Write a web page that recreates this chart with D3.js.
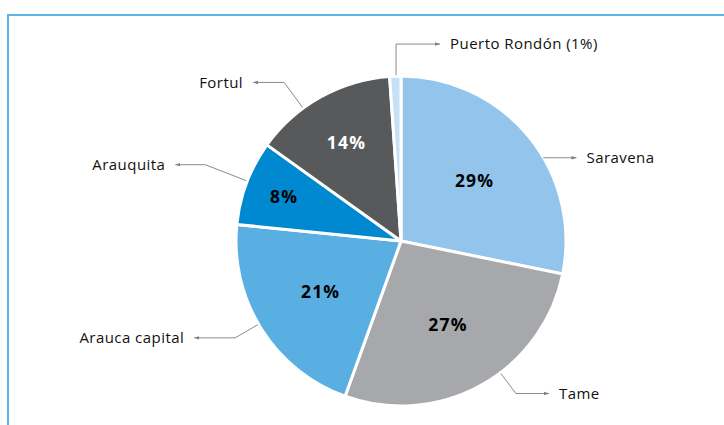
<!DOCTYPE html>
<html>
<head>
<meta charset="utf-8">
<script src="https://cdn.jsdelivr.net/npm/d3@7"></script>
<style>
  body { margin: 0; background: #fff; }
  svg { display: block; font-family: "Open Sans", "Noto Sans", sans-serif; }
</style>
</head>
<body>
<div id="chart"></div>
<script>
(() => {
// data, clockwise from 12 o'clock
const municipios = ['Saravena', 'Tame', 'Arauca capital', 'Arauquita', 'Fortul', 'Puerto Rondón'];
const shares = [28.2, 27.3, 21.1, 8.3, 14.0, 1.1];
const shareLabels = ['29%', '27%', '21%', '8%', '14%', ''];
const calloutLabels = ['Saravena', 'Tame', 'Arauca capital', 'Arauquita', 'Fortul', 'Puerto Rondón (1%)'];

const colors = ['#93c5ec', '#a7a8ab', '#5aafe2', '#0089d0', '#58595b', '#c6e0f5'];
const pctColors = ['#000', '#000', '#000', '#000', '#fff', '#000'];

// callout layout: angle on the rim (deg), elbow radius, horizontal run
const leaderAngle = [59.7, 143, 239.7, 291.3, 323.6, 358.3];
const elbowRadius = [165, 191, 192, 210, 197, 197];
const runLength = [33, 33, 41, 30, 31, 44];
const pctRadius = [95, 96, 95, 125, 112, 0];

const width = 724, height = 425;
const cx = 401, cy = 241, radius = 165;

const svg = d3.select('#chart').append('svg')
    .attr('width', width)
    .attr('height', height);

// frame
svg.append('rect')
    .attr('x', 8).attr('y', 15)
    .attr('width', 740).attr('height', 440)
    .attr('fill', 'none')
    .attr('stroke', '#5fb4e5')
    .attr('stroke-width', 2);

svg.append('defs').append('marker')
    .attr('id', 'arrow')
    .attr('viewBox', '0 0 10 10')
    .attr('refX', 10).attr('refY', 5)
    .attr('markerWidth', 5).attr('markerHeight', 5)
    .attr('orient', 'auto')
    .append('path')
    .attr('d', 'M0,1.5L10,5L0,8.5Z')
    .attr('fill', '#7f7f7f');

const data = municipios.map((m, i) => ({ name: m, value: shares[i], i }));

const pie = d3.pie().value(d => d.value).sort(null);
const arc = d3.arc().innerRadius(0).outerRadius(radius);
const arcs = pie(data);

const g = svg.append('g').attr('transform', `translate(${cx},${cy})`);

g.selectAll('path.slice')
    .data(arcs)
    .enter()
    .append('path')
    .attr('class', 'slice')
    .attr('d', arc)
    .attr('fill', d => colors[d.data.i])
    .attr('stroke', '#fff')
    .attr('stroke-width', 3)
    .attr('stroke-linejoin', 'round');

// percentage labels
g.selectAll('text.pct')
    .data(arcs.filter(d => shareLabels[d.data.i]))
    .enter()
    .append('text')
    .attr('class', 'pct')
    .attr('transform', d => {
        const a = (d.startAngle + d.endAngle) / 2;
        const r = pctRadius[d.data.i];
        return `translate(${r * Math.sin(a)},${-r * Math.cos(a)})`;
    })
    .attr('text-anchor', 'middle')
    .attr('dy', '0.35em')
    .attr('font-size', 17.5)
    .attr('font-weight', 700)
    .attr('letter-spacing', 1.2)
    .attr('fill', d => pctColors[d.data.i])
    .text(d => shareLabels[d.data.i]);

// callouts
const pt = (deg, r) => {
    const a = deg * Math.PI / 180;
    return [r * Math.sin(a), -r * Math.cos(a)];
};

arcs.forEach(d => {
    const i = d.data.i;
    const p0 = pt(leaderAngle[i], radius + 1);
    let p1 = pt(leaderAngle[i], elbowRadius[i]);
    const right = leaderAngle[i] < 180 || leaderAngle[i] > 350;
    if (i === 5) p1 = [p0[0], p1[1]];
    const p2 = [p1[0] + (right ? runLength[i] : -runLength[i]), p1[1]];

    g.append('path')
        .attr('d', d3.line()([p0, p1, p2]))
        .attr('fill', 'none')
        .attr('stroke', '#8a8a8a')
        .attr('stroke-width', 1)
        .attr('marker-end', 'url(#arrow)');

    g.append('text')
        .attr('x', p2[0] + (right ? 10 : -10))
        .attr('y', p2[1])
        .attr('dy', '0.35em')
        .attr('text-anchor', right ? 'start' : 'end')
        .attr('font-size', 15)
        .attr('letter-spacing', 0.45)
        .attr('fill', '#111')
        .text(calloutLabels[i]);
});
})();
</script>
</body>
</html>
